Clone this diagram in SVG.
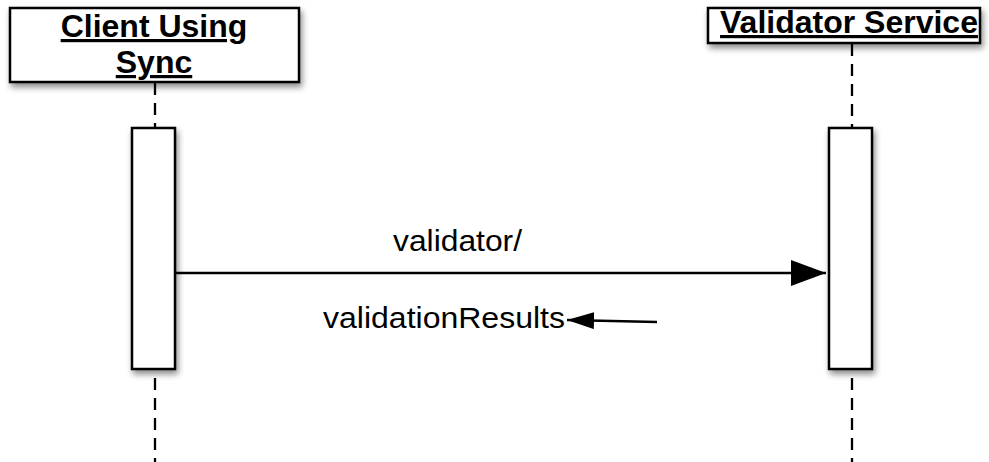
<svg xmlns="http://www.w3.org/2000/svg" width="989" height="462" viewBox="0 0 989 462">
<defs>
<filter id="sh" x="-20%" y="-20%" width="140%" height="160%">
<feDropShadow dx="2" dy="4" stdDeviation="3" flood-color="#000" flood-opacity="0.45"/>
</filter>
<marker id="ah" viewBox="0 0 35 26" refX="35" refY="13" markerWidth="35" markerHeight="26" markerUnits="userSpaceOnUse" orient="auto">
<path d="M0,0 L35,13 L0,26 Z" fill="#000"/>
</marker>
<marker id="ah2" viewBox="0 0 27 17" refX="27" refY="8.5" markerWidth="27" markerHeight="17" markerUnits="userSpaceOnUse" orient="auto">
<path d="M0,0 L27,8.5 L0,17 Z" fill="#000"/>
</marker>
</defs>
<style>
.box{fill:#fff;stroke:#000;stroke-width:2.5;filter:url(#sh)}
.life{stroke:#000;stroke-width:2.3;stroke-dasharray:12 8;fill:none}
.hdr{font-family:"Liberation Sans",Arial,sans-serif;font-weight:bold;font-size:32px;text-decoration:underline;text-anchor:middle;fill:#000}
.lbl{font-family:"Liberation Sans",Arial,sans-serif;font-size:29px;fill:#000}
.msg{stroke:#000;stroke-width:2.5;fill:none}
</style>
<rect width="989" height="462" fill="#fff"/>
<g id="client">
<line class="life" x1="155" y1="83" x2="155" y2="127"/>
<line class="life" x1="155" y1="378" x2="155" y2="462"/>
<rect class="box" x="10" y="8" width="289" height="74"/>
<text class="hdr" x="154" y="37">Client Using</text>
<text class="hdr" x="154" y="73">Sync</text>
<rect class="box" x="132" y="128" width="43" height="241"/>
</g>
<g id="validator">
<line class="life" x1="852" y1="44" x2="852" y2="127"/>
<line class="life" x1="852" y1="378" x2="852" y2="462"/>
<rect class="box" x="708" y="8" width="272" height="35"/>
<text class="hdr" x="849" y="33">Validator Service</text>
<rect class="box" x="829" y="128" width="43" height="241"/>
</g>
<g id="connectors">
<line class="msg" x1="176" y1="273" x2="826" y2="273" marker-end="url(#ah)"/>
<text class="lbl" x="393" y="251" textLength="129" lengthAdjust="spacingAndGlyphs">validator/</text>
<line class="msg" x1="657" y1="322" x2="567" y2="320" marker-end="url(#ah2)"/>
<text class="lbl" x="323" y="328" textLength="242" lengthAdjust="spacingAndGlyphs">validationResults</text>
</g>
</svg>
